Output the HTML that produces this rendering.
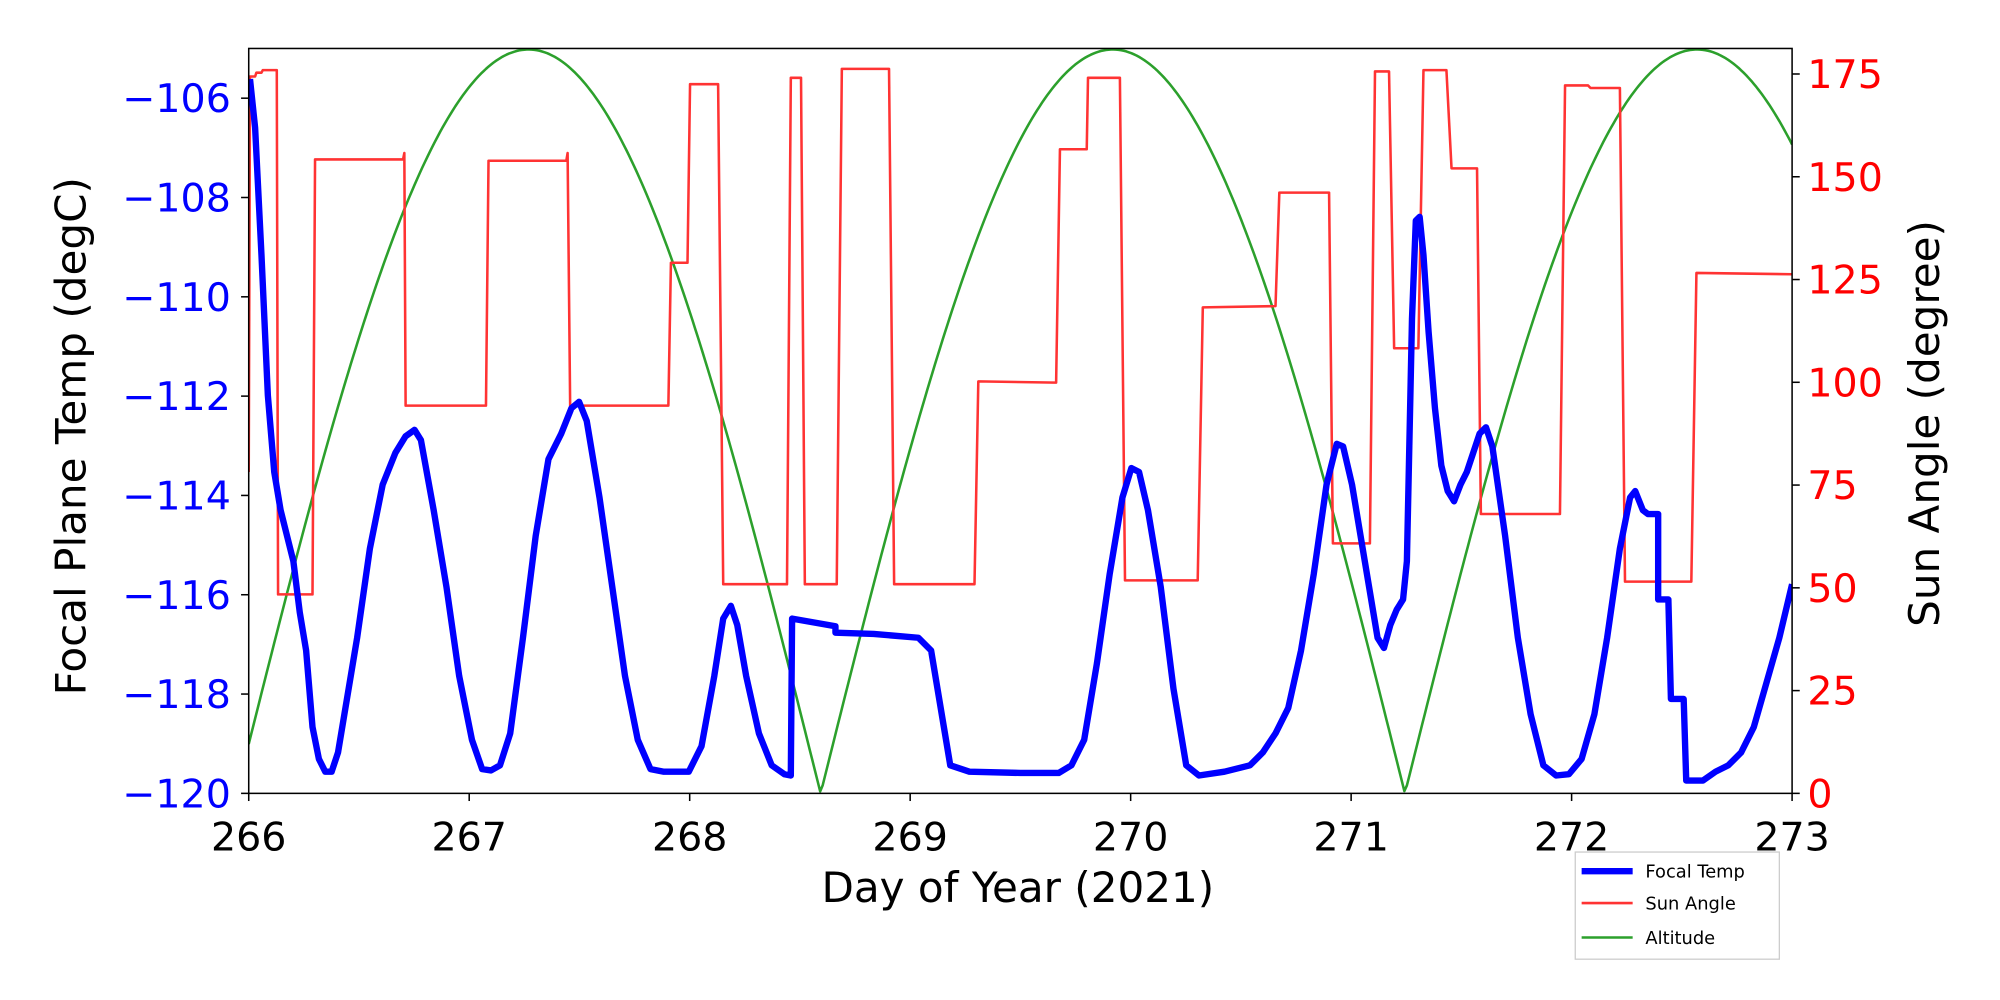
<!DOCTYPE html>
<html><head><meta charset="utf-8"><style>html,body{margin:0;padding:0;background:#fff}svg{display:block}</style></head><body>
<svg width="2000" height="1000" viewBox="0 0 1568 784" xmlns="http://www.w3.org/2000/svg" font-family="DejaVu Sans, Liberation Sans, sans-serif">
<defs><clipPath id="c"><rect x="195" y="38" width="1210" height="584"/></clipPath></defs>
<rect width="1568" height="784" fill="#fff"/>
<g clip-path="url(#c)" fill="none" stroke-linejoin="round">
<path id="alt" stroke="#2ca02c" stroke-width="2" d=""/>
<path stroke="#ff3333" stroke-width="2" d="M195,370 L196,60 L200,60 L201,57 L205,57 L206,55 L217,55 L218,466 L245,466 L247,125 L316,125 L317,120 L318,318 L381,318 L383,126 L444,126 L445,120 L447,318 L524,318 L526,206 L539,206 L541,66 L563,66 L567,458 L617,458 L620,61 L628,61 L631,458 L656,458 L660,54 L697,54 L701,458 L764,458 L767,299 L828,300 L831,117 L852,117 L853,61 L878,61 L882,455 L939,455 L943,241 L1000,240 L1003,151 L1042,151 L1045,426 L1074,426 L1078,56 L1089,56 L1093,273 L1112,273 L1116,55 L1134,55 L1138,132 L1158,132 L1161,403 L1223,403 L1227,67 L1245,67 L1247,69 L1270,69 L1274,456 L1326,456 L1330,214 L1405,215"/>
<path stroke="#0000ff" stroke-width="5" d="M196,62 L200,100 L205,200 L210,310 L215,370 L220,400 L225,420 L230,440 L235,480 L240,510 L245,570 L250,595 L255,605 L260,605 L265,590 L270,560 L280,500 L290,430 L300,380 L310,355 L318,342 L325,337 L330,345 L340,400 L350,460 L360,530 L370,580 L378,603 L385,604 L392,600 L400,575 L410,500 L420,420 L430,360 L440,340 L448,320 L454,315 L460,330 L470,390 L480,460 L490,530 L500,580 L510,603 L520,605 L530,605 L540,605 L550,585 L560,530 L567,485 L573,475 L578,490 L585,530 L595,575 L605,600 L615,607 L620,608 L621,485 L655,491 L655,496 L685,497 L720,500 L730,510 L740,570 L745,600 L760,605 L800,606 L830,606 L840,600 L850,580 L860,520 L870,450 L880,390 L887,367 L893,370 L900,400 L910,460 L920,540 L930,600 L940,608 L960,605 L980,600 L990,590 L1000,575 L1010,555 L1020,510 L1030,450 L1040,380 L1048,348 L1053,350 L1060,380 L1070,440 L1080,500 L1085,508 L1090,490 L1095,478 L1100,470 L1103,440 L1107,250 L1110,173 L1113,170 L1116,200 L1120,260 L1125,320 L1130,365 L1135,385 L1140,393 L1145,380 L1150,370 L1160,340 L1165,335 L1170,350 L1180,420 L1190,500 L1200,560 L1210,600 L1220,608 L1230,607 L1240,595 L1250,560 L1260,500 L1270,430 L1278,390 L1282,385 L1288,400 L1292,403 L1300,403 L1300,470 L1308,470 L1310,548 L1320,548 L1322,612 L1335,612 L1345,605 L1355,600 L1365,590 L1375,570 L1385,535 L1395,500 L1405,458"/>
</g>
<rect x="195" y="38" width="1210" height="584" fill="none" stroke="#000" stroke-width="1.2"/>
<g id="ticks" stroke="#000" stroke-width="1.2"></g>
<g id="lab" font-size="31"></g>
<text x="798" y="707" font-size="33" text-anchor="middle">Day of Year (2021)</text>
<text transform="translate(67,342) rotate(-90)" font-size="33" text-anchor="middle">Focal Plane Temp (degC)</text>
<text transform="translate(1520,332) rotate(-90)" font-size="33" text-anchor="middle">Sun Angle (degree)</text>
<rect x="1235" y="668" width="160" height="84" fill="#fff" stroke="#ccc" stroke-width="1"/>
<line x1="1240" y1="683" x2="1280" y2="683" stroke="#0000ff" stroke-width="5"/>
<line x1="1240" y1="708" x2="1280" y2="708" stroke="#ff3333" stroke-width="2"/>
<line x1="1240" y1="735" x2="1280" y2="735" stroke="#2ca02c" stroke-width="2"/>
<g font-size="14"><text x="1290" y="688">Focal Temp</text><text x="1290" y="713">Sun Angle</text><text x="1290" y="740">Altitude</text></g>
<script>
var ns="http://www.w3.org/2000/svg";
var d="";for(var i=0;i<=1210;i+=2){var t=266+i/172.857;var v=181*Math.abs(Math.sin(Math.PI*(t-265.944)/2.65));var y=622-v*584/181.25;d+=(i?"L":"M")+(195+i)+","+y.toFixed(1)+" ";}
document.getElementById("alt").setAttribute("d",d);
var tk=document.getElementById("ticks"),lb=document.getElementById("lab");
function L(x1,y1,x2,y2){var l=document.createElementNS(ns,"line");l.setAttribute("x1",x1);l.setAttribute("y1",y1);l.setAttribute("x2",x2);l.setAttribute("y2",y2);tk.appendChild(l);}
function T(x,y,s,a,c){var e=document.createElementNS(ns,"text");e.setAttribute("x",x);e.setAttribute("y",y);e.setAttribute("text-anchor",a);e.setAttribute("fill",c);e.textContent=s;lb.appendChild(e);}
for(var k=0;k<=7;k++){var x=195+k*172.857;L(x,622,x,628);T(x,667,266+k,"middle","#000");}
for(var k=0;k<=7;k++){var y=622-k*77.86;L(189,y,195,y);T(181,y+11,"\u2212"+(120-2*k),"end","#0000ff");}
for(var k=0;k<=7;k++){var y=622-k*80.57;L(1405,y,1411,y);T(1417,y+11,""+(25*k),"start","#ff0000");}
</script>
</svg>
</body></html>
